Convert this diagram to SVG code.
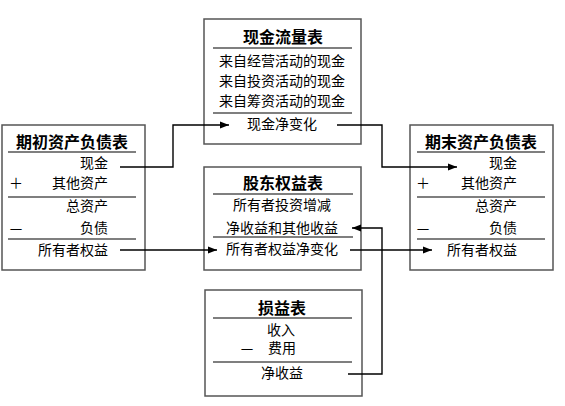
<svg xmlns="http://www.w3.org/2000/svg" width="565" height="406" viewBox="0 0 565 406">
<defs>
<marker id="ah" markerUnits="userSpaceOnUse" markerWidth="10" markerHeight="8" refX="9" refY="4" orient="auto">
<path d="M0,0.5 L9,4 L0,7.5 z" fill="#000"/>
</marker>
<style>
.box{fill:#fff;stroke:#555;stroke-width:1.5}
.sh{fill:none;stroke:#ccc;stroke-width:1}
.sep{stroke:#000;stroke-width:1.2}
.t{font-family:"Noto Sans CJK SC","Noto Sans",sans-serif;font-size:14px;fill:#000}
.h{font-family:"Noto Sans CJK SC","Noto Sans",sans-serif;font-size:16px;font-weight:bold;fill:#000}
.m{text-anchor:middle}
.e{text-anchor:end}
.c{fill:none;stroke:#000;stroke-width:1.4}
</style>
</defs>
<rect width="565" height="406" fill="#fff"/>

<g id="cashflow">
<rect class="box" x="204" y="19" width="157" height="125"/>
<text class="h m" x="283" y="43">现金流量表</text>
<line class="sep" x1="213" y1="48" x2="352" y2="48"/>
<text class="t m" x="282" y="66">来自经营活动的现金</text>
<text class="t m" x="282" y="86">来自投资活动的现金</text>
<text class="t m" x="282" y="106">来自筹资活动的现金</text>
<line class="sep" x1="213" y1="113" x2="352" y2="113"/>
<text class="t m" x="282" y="129">现金净变化</text>
</g>

<g id="opening">
<rect class="box" x="2" y="125" width="143" height="145"/>
<text class="h m" x="72" y="148">期初资产负债表</text>
<line class="sep" x1="8" y1="152" x2="136" y2="152"/>
<text class="t e" x="108" y="168">现金</text>
<text class="t m" x="16" y="188">＋</text>
<text class="t e" x="108" y="188">其他资产</text>
<line class="sep" x1="8" y1="197" x2="136" y2="197"/>
<text class="t e" x="108" y="211">总资产</text>
<text class="t m" x="16" y="233">—</text>
<text class="t e" x="108" y="233">负债</text>
<line class="sep" x1="8" y1="239" x2="136" y2="239"/>
<text class="t e" x="108" y="255">所有者权益</text>
</g>

<g id="closing">
<rect class="box" x="410" y="125" width="143" height="145"/>
<text class="h m" x="481" y="148">期末资产负债表</text>
<line class="sep" x1="417" y1="152" x2="545" y2="152"/>
<text class="t e" x="517" y="168">现金</text>
<text class="t m" x="423" y="188">＋</text>
<text class="t e" x="517" y="188">其他资产</text>
<line class="sep" x1="417" y1="197" x2="545" y2="197"/>
<text class="t e" x="517" y="211">总资产</text>
<text class="t m" x="423" y="233">—</text>
<text class="t e" x="517" y="233">负债</text>
<line class="sep" x1="417" y1="239" x2="545" y2="239"/>
<text class="t e" x="517" y="255">所有者权益</text>
</g>

<g id="equity">
<rect class="box" x="204" y="167" width="157" height="103"/>
<text class="h m" x="283" y="189">股东权益表</text>
<line class="sep" x1="213" y1="194" x2="353" y2="194"/>
<text class="t m" x="282" y="210">所有者投资增减</text>
<text class="t m" x="282" y="233">净收益和其他收益</text>
<line class="sep" x1="213" y1="237" x2="353" y2="237"/>
<text class="t m" x="282" y="254">所有者权益净变化</text>
</g>

<g id="income">
<rect class="box" x="205" y="290" width="157" height="106"/>
<text class="h m" x="282" y="314">损益表</text>
<line class="sep" x1="213" y1="318" x2="352" y2="318"/>
<text class="t m" x="281" y="335">收入</text>
<text class="t m" x="247" y="353">—</text>
<text class="t m" x="282" y="353">费用</text>
<line class="sep" x1="213" y1="362" x2="352" y2="362"/>
<text class="t m" x="282" y="378">净收益</text>
</g>

<g id="connectors">
<path class="c" d="M120,167 H173 V125 H229" marker-end="url(#ah)"/>
<path class="c" d="M337,125 H382 V167 H457" marker-end="url(#ah)"/>
<path class="c" d="M120,250 H217" marker-end="url(#ah)"/>
<path class="c" d="M350,250 H432" marker-end="url(#ah)"/>
<path class="c" d="M348,374 H382 V228 H352" marker-end="url(#ah)"/>
</g>
</svg>
